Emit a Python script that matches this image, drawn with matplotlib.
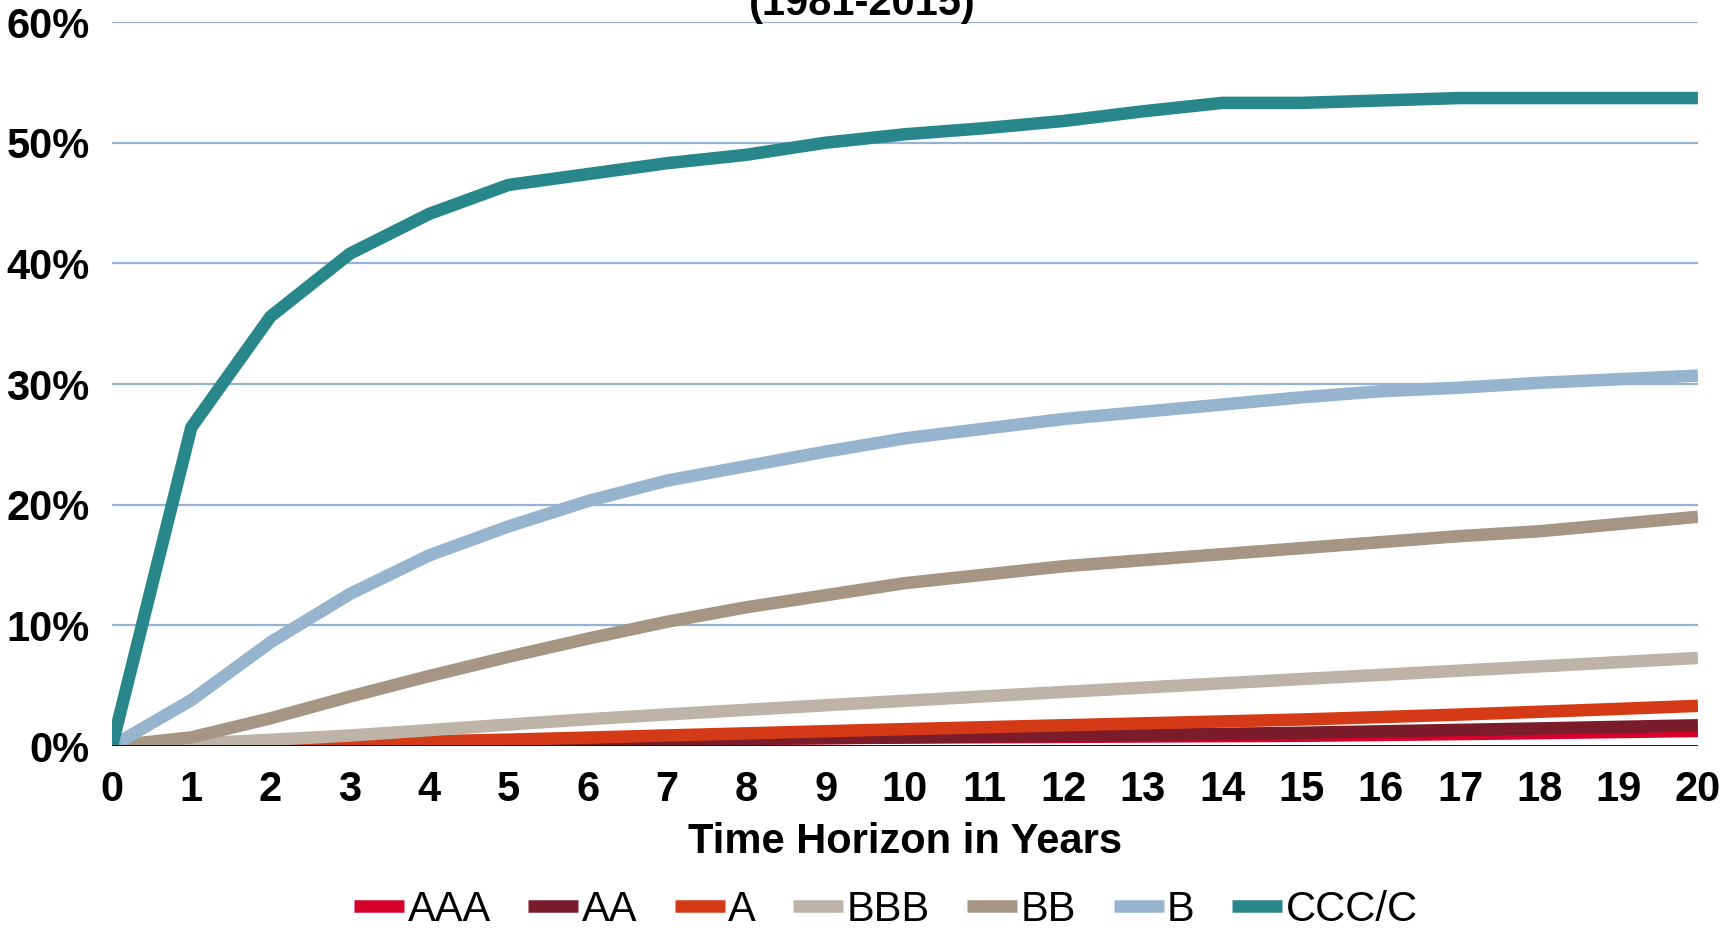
import matplotlib
matplotlib.use('Agg')
import matplotlib.pyplot as plt

plt.rcParams['font.family'] = ['Liberation Sans', 'DejaVu Sans']

years = list(range(0, 21))

# cumulative default rates (%) by rating
aaa = [0, 0.00, 0.03, 0.13, 0.24, 0.35, 0.45, 0.51, 0.59, 0.65, 0.70,
       0.73, 0.76, 0.79, 0.82, 0.85, 0.92, 0.99, 1.07, 1.16, 1.25]
aa = [0, 0.02, 0.06, 0.12, 0.22, 0.32, 0.42, 0.51, 0.59, 0.66, 0.73,
      0.80, 0.86, 0.93, 1.01, 1.10, 1.22, 1.34, 1.46, 1.59, 1.72]
a = [0, 0.06, 0.15, 0.26, 0.39, 0.53, 0.70, 0.88, 1.05, 1.23, 1.40,
     1.56, 1.72, 1.88, 2.04, 2.20, 2.40, 2.61, 2.84, 3.08, 3.33]
bbb = [0, 0.19, 0.52, 0.87, 1.32, 1.78, 2.22, 2.62, 3.00, 3.38, 3.75,
       4.12, 4.48, 4.84, 5.20, 5.55, 5.90, 6.25, 6.60, 6.95, 7.30]
bb = [0, 0.72, 2.3, 4.1, 5.8, 7.4, 8.9, 10.3, 11.5, 12.5, 13.5,
      14.2, 14.9, 15.4, 15.9, 16.4, 16.9, 17.4, 17.8, 18.4, 19.0]
b = [0, 3.8, 8.6, 12.6, 15.8, 18.2, 20.3, 22.0, 23.2, 24.4, 25.5,
     26.3, 27.1, 27.7, 28.3, 28.9, 29.4, 29.7, 30.1, 30.4, 30.7]
ccc = [0, 26.4, 35.6, 40.8, 44.1, 46.5, 47.4, 48.3, 49.0, 50.0, 50.7,
       51.2, 51.8, 52.6, 53.3, 53.3, 53.5, 53.7, 53.7, 53.7, 53.7]

labels = ['AAA', 'AA', 'A', 'BBB', 'BB', 'B', 'CCC/C']
colors = ['#D7002C', '#7B1C2B', '#D53A16', '#BDB4A7', '#A69583', '#97B4CF', '#28878A']
y_ticks = [0, 10, 20, 30, 40, 50, 60]

fig = plt.figure(figsize=(17.25, 9.3), dpi=100)
ax = fig.add_axes([0.0649, 0.1978, 0.9194, 0.7785])

for ys in y_ticks[1:]:
    ax.axhline(ys, color='#95B3D0', lw=1.6, zorder=0)

series = [aaa, aa, a, bbb, bb, b, ccc]
for vals, lab, col in zip(series, labels, colors):
    ax.plot(years, vals, color=col, lw=9, label=lab, solid_capstyle='butt', zorder=2)

ax.axhline(0, color='black', lw=2, zorder=3)

ax.set_xlim(0, 20)
ax.set_ylim(0, 60)
ax.set_xticks(years)
ax.set_xticklabels([str(y) for y in years], fontsize=30, fontweight='bold')
ax.set_yticks(y_ticks)
ax.set_yticklabels([f'{y}%' for y in y_ticks], fontsize=30, fontweight='bold')
ax.tick_params(axis='both', length=0)
ax.tick_params(axis='x', pad=17)
ax.tick_params(axis='y', pad=16)
for s in ax.spines.values():
    s.set_visible(False)

ax.set_xlabel('Time Horizon in Years', fontsize=30, fontweight='bold', labelpad=9)

fig.text(0.5, 1 - 15 / 930, '(1981-2015)', ha='center', va='baseline',
         fontsize=30, fontweight='bold')

fig.legend(loc='center', bbox_to_anchor=(886 / 1725, 1 - 910 / 930), ncol=7,
           frameon=False, fontsize=30, handlelength=1.2, handletextpad=0.08,
           columnspacing=0.9, borderpad=0)

fig.savefig('out.png', dpi=100)
